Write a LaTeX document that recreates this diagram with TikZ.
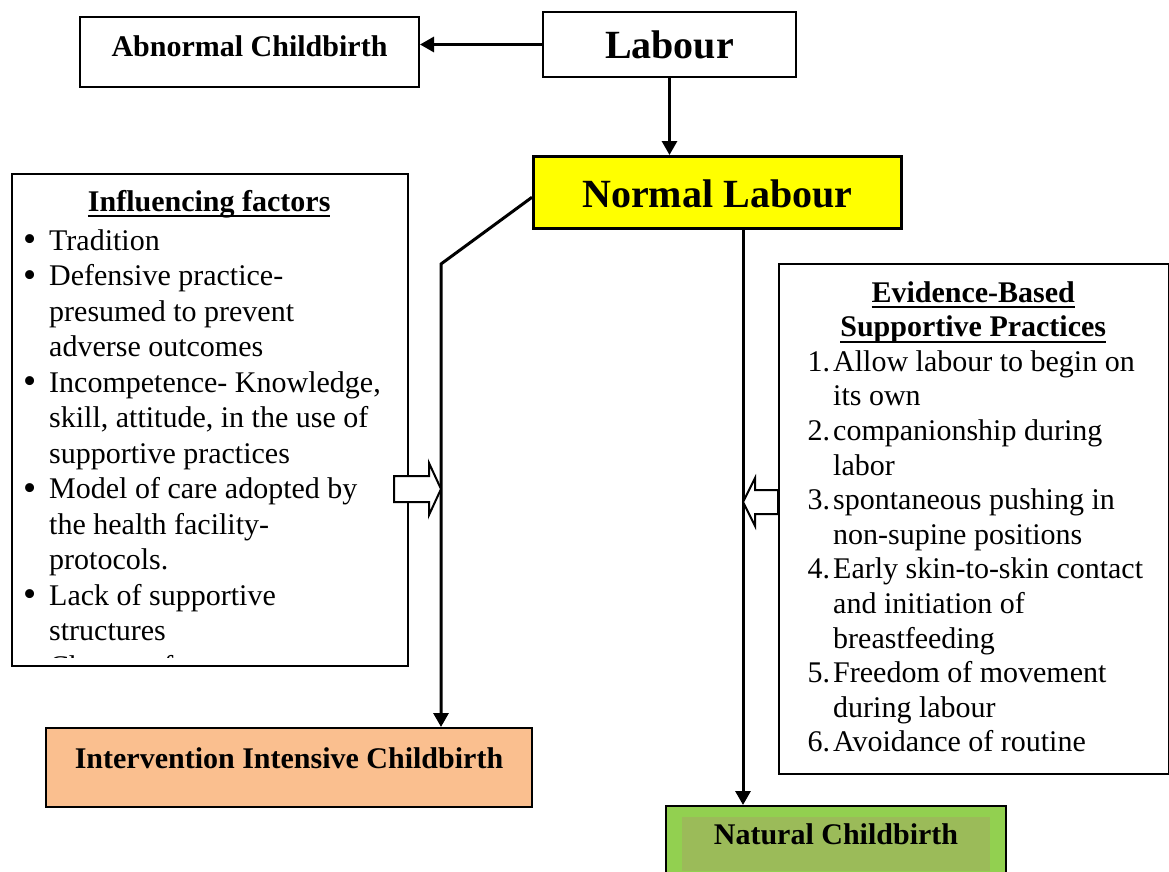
\documentclass[tikz,border=0pt]{standalone}
\usepackage{fontspec}
\setmainfont{Liberation Serif}
\usepackage{enumitem}
\usetikzlibrary{arrows.meta,positioning}

\newsavebox{\caixasub}
\newcommand{\sublinha}[1]{\leavevmode\sbox{\caixasub}{#1}\rlap{\usebox{\caixasub}}\rule[-5.9pt]{\wd\caixasub}{1.8pt}} %Sublinhado grosso

\definecolor{amarelo}{HTML}{FFFF00}
\definecolor{laranja}{HTML}{FABF8F}
\definecolor{verde}{HTML}{92D050}
\definecolor{oliva}{HTML}{9BBB59}

\tikzset{
  caixa/.style={draw, line width=2pt, inner sep=0pt, anchor=north west, font=\fontsize{30}{36}\selectfont\bfseries},
  seta/.style={line width=3pt, -{Triangle[length=14pt,width=15pt]}},
  vazada/.style={draw, line width=2pt, fill=white, line join=miter},
}

\begin{document}
\begin{tikzpicture}[x=1pt,y=-1pt] %Desenho em pontos, y para baixo
	\clip (0,0) rectangle (1169,872); %Tamanho da figura
		%Caixas principais
	\node[caixa, minimum width=253pt, text height=47pt, text depth=18pt, font=\fontsize{40}{48}\selectfont\bfseries] (labour) at (542,11) {Labour};
	\node[caixa, minimum width=339pt, text height=40pt, text depth=30pt] (abnormal) at (79,16) {Abnormal Childbirth};
	\node[caixa, fill=amarelo, line width=2.5pt, minimum width=368pt, text height=51pt, text depth=21pt, font=\fontsize{40}{48}\selectfont\bfseries] (normal) at (532,155) {Normal Labour};
	\node[caixa, fill=laranja, minimum width=486pt, text height=40pt, text depth=39pt] (interv) at (45,727) {Intervention Intensive Childbirth};
	\node[caixa, fill=verde, minimum width=340pt, minimum height=80pt] (natural) at (665,805) {}; %Caixa verde
	\node[caixa, draw=none, fill=oliva, minimum width=308pt, text height=27pt, text depth=27pt] (naturalin) at (681,816) {Natural Childbirth};
		%Fatores que influenciam
	\node[caixa, minimum width=396pt, minimum height=492pt] (fatores) at (11,173) {};
	\begin{scope}
		\clip ([yshift=10pt]fatores.south west) rectangle (fatores.north east); %Texto cortado embaixo
		\node[anchor=base west, inner sep=0pt] (fatorestxt) at (11,211) {\parbox[t]{396pt}{\fontsize{30}{35.5}\selectfont
			{\centering\bfseries\sublinha{Influencing factors}\par}\vspace{3.5pt}
			\raggedright
			\begin{itemize}[leftmargin=38pt, labelsep=13pt, nosep, label=\raisebox{-1.8pt}{\scalebox{1.25}{\textbullet}}]
				\item Tradition
				\item Defensive practice-\\presumed to prevent\\adverse outcomes
				\item Incompetence- Knowledge,\\skill, attitude, in the use of\\supportive practices
				\item Model of care adopted by\\the health facility-\\protocols.
				\item Lack of supportive\\structures
				\item Change of
			\end{itemize}}};
	\end{scope}
		%Praticas baseadas em evidencias
	\node[caixa, minimum width=390pt, minimum height=510pt] (evidencias) at (778,263) {};
	\node[anchor=base west, inner sep=0pt] (evidenciastxt) at (778,302) {\parbox[t]{390pt}{\fontsize{30}{34.6}\selectfont
		{\centering\bfseries\sublinha{Evidence-Based}\\\sublinha{Supportive Practices}\par}
		\raggedright
		\begin{enumerate}[leftmargin=55pt, labelsep=3pt, nosep, label=\arabic*.]
			\item Allow labour to begin on\\its own
			\item companionship during\\labor
			\item spontaneous pushing in\\non-supine positions
			\item Early skin-to-skin contact\\and initiation of\\breastfeeding
			\item Freedom of movement\\during labour
			\item Avoidance of routine
		\end{enumerate}}};
		%Setas
	\draw[seta] (labour.west) -- (labour.west -| abnormal.east); %Para o parto anormal
	\draw[seta] (labour.south) -- (labour.south |- normal.north); %Para o parto normal
	\coordinate (dobra) at (441,264);
	\draw[seta] ([yshift=-5pt]normal.west) -- (dobra) -- (dobra |- interv.north); %Ramo da intervencao
	\coordinate (descida) at (743,0);
	\draw[seta] (descida |- normal.south) -- (descida |- natural.north); %Ramo natural
		%Setas vazadas
	\draw[vazada] (394,476) -- (429,476) -- (429,463) -- (441,489) -- (429,515) -- (429,502) -- (394,502) -- cycle;
	\draw[vazada] (778,490) -- (755,490) -- (755,478) -- (743,502) -- (755,526) -- (755,514) -- (778,514) -- cycle;
\end{tikzpicture}
\end{document}
